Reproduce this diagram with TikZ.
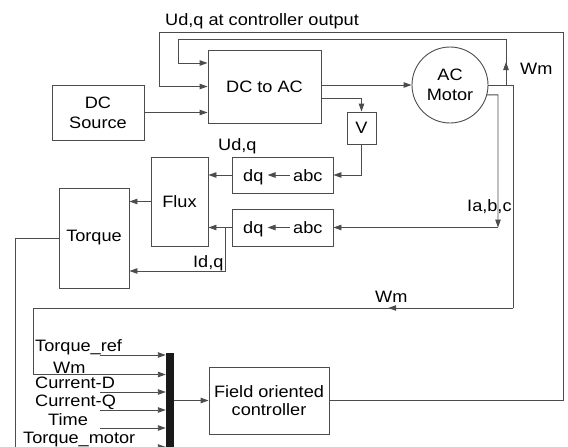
\documentclass[tikz,border=0pt]{standalone}
\usepackage{fontspec}
\setmainfont[FakeStretch=1.1]{Liberation Sans}
\usetikzlibrary{arrows.meta,decorations.markings}
\begin{document}
\begin{tikzpicture}[x=1pt,y=-1pt,
  every node/.style={font=\fontsize{16.5}{20}\selectfont, inner sep=0pt},
  blk/.style={draw=black!70, line width=0.9pt, rectangle},
  wire/.style={draw=black!70, line width=0.9pt},
  arr/.style={wire, -{Triangle[length=8pt,width=5.5pt]}},
  midarr/.style={wire, postaction={decorate},
    decoration={markings, mark=at position #1 with {\arrow{Triangle[length=8pt,width=5.5pt]}}}},
  lbl/.style={anchor=base west}]
\useasboundingbox (0,0) rectangle (568,447);

% blocks
\node[blk, minimum width=113pt, minimum height=73pt] (dcac) at (264.5,86.5) {DC to AC};
\node[blk, minimum width=92pt, minimum height=55pt, align=center] (src) at (98,112.5) {DC\\Source};
\node[draw=black!70, line width=0.9pt, circle, minimum size=76pt, align=center] (motor) at (450,85) {AC\\Motor};
\node[blk, minimum width=29pt, minimum height=32pt] (V) at (361.5,128) {V};
\node[blk, minimum width=101pt, minimum height=36pt] (dq1) at (282.5,175) {};
\node[lbl] (dq1d) at (243,181) {dq};
\node[lbl] (dq1a) at (293,181) {abc};
\node[blk, minimum width=101pt, minimum height=37pt] (dq2) at (282.5,227.5) {};
\node[lbl] (dq2d) at (243,233.5) {dq};
\node[lbl] (dq2a) at (293,233.5) {abc};
\node[blk, minimum width=57pt, minimum height=89pt] (flux) at (179.5,201.5) {Flux};
\node[blk, minimum width=70pt, minimum height=100pt] (torque) at (94,238) {Torque};
\node[fill=black!90, minimum width=8pt, minimum height=110pt] (bar) at (170,408) {};
\node[blk, minimum width=120pt, minimum height=67pt, align=center, font=\fontsize{16.5}{18.5}\selectfont] (foc) at (269,400.5) {Field oriented\\controller};

% labels
\node[lbl] (title) at (165,25.5) {Ud,q at controller output};
\node[lbl] (udq) at (218,150.5) {Ud,q};
\node[lbl] (idq) at (193,267) {Id,q};
\node[lbl] (iabc) at (467,211) {Ia,b,c};
\node[lbl] (wm1) at (520,74.5) {Wm};
\node[lbl] (wm2) at (375,302.5) {Wm};
\node[lbl] (lTref) at (35,351) {Torque\_ref};
\node[lbl] (lWm) at (53,373) {Wm};
\node[lbl] (lCD) at (35,388) {Current-D};
\node[lbl] (lCQ) at (35,406) {Current-Q};
\node[lbl] (lTime) at (48,425) {Time};
\node[lbl] (lTm) at (23,443) {Torque\_motor};

% coordinates
\coordinate (t1) at (321,98);
\coordinate (br) at (225,227.5);
\coordinate (idc) at (225,271);
\coordinate (tq) at (15,447);
\coordinate (wmA) at (513,85);
\coordinate (wmB) at (513,308);
\coordinate (wmC) at (33,308);
\coordinate (wmD) at (33,374.5);
\coordinate (up0) at (506,85);
\coordinate (up1) at (506,39);
\coordinate (up2) at (178,39);
\coordinate (up3) at (178,63);
\coordinate (ia0) at (498,94.8);
\coordinate (ia) at (498,227.5);
\coordinate (c1) at (563,400.5);
\coordinate (c2) at (563,32);
\coordinate (c3) at (159,32);
\coordinate (in1) at (100,355);
\coordinate (in3) at (100,392);
\coordinate (in4) at (100,410);
\coordinate (in5) at (100,428);
\coordinate (in6) at (100,447);

% internal dq <- abc arrows
\draw[arr, shorten <=3pt, shorten >=4pt] (dq1a.west |- dq1.center) -- (dq1d.east |- dq1.center);
\draw[arr, shorten <=3pt, shorten >=4pt] (dq2a.west |- dq2.center) -- (dq2d.east |- dq2.center);

% connectors
\draw[arr] (src.east) -- (src.east -| dcac.west);
\draw[arr] (dcac.east |- motor.west) -- (motor.west);
\draw[arr] (t1) -| (V.north);
\draw[arr] (V.south) |- (dq1.east);
\draw[arr] (dq1.west) -- (dq1.west -| flux.east);
\draw[arr] (dq2.west) -- (dq2.west -| flux.east);
\draw[arr] (br) -- (idc) -- (idc -| torque.east);
\draw[arr] (flux.west) -- (flux.west -| torque.east);
\draw[wire] (torque.west) -| (tq);

\draw[wire] (motor.east) -- (wmA) -- (wmB);
\draw[midarr=0.26] (wmB) -- (wmC);
\draw[arr] (wmC) -- (wmD) -- (wmD -| bar.west);
\draw[midarr=0.5] (up0) -- (up1);
\draw[arr] (up1) -- (up2) -- (up3) -- (up3 -| dcac.west);

\draw[arr] (motor.-15) -- (ia0) -- (ia);
\draw[arr] (ia) -- (ia -| dq2.east);

\draw[arr] (foc.east) -- (c1) -- (c2) -- (c3) |- (dcac.west);
\draw[arr] (bar.east |- foc.west) -- (foc.west);

\draw[arr] (in1) -- (in1 -| bar.west);
\draw[arr] (in3) -- (in3 -| bar.west);
\draw[arr] (in4) -- (in4 -| bar.west);
\draw[arr] (in5) -- (in5 -| bar.west);
\draw[arr] (in6) -- (in6 -| bar.west);
\end{tikzpicture}
\end{document}
